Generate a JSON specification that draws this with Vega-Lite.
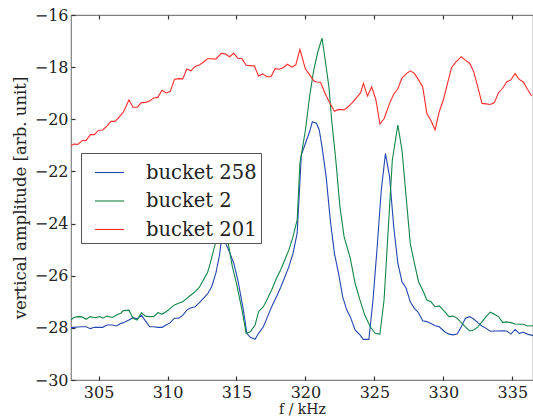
{
  "$schema": "https://vega.github.io/schema/vega-lite/v6.json",
  "width": 462,
  "height": 365,
  "autosize": {"type": "none"},
  "padding": {"left": 71, "top": 15, "right": 0, "bottom": 38},
  "background": "white",
  "config": {
    "view": {"stroke": "#808080", "strokeWidth": 1.2},
    "font": "DejaVu Serif",
    "axis": {
      "domain": false,
      "grid": false,
      "tickColor": "#333333",
      "tickWidth": 1.2,
      "labelFont": "DejaVu Serif",
      "labelColor": "#222222",
      "titleFont": "DejaVu Serif",
      "titleColor": "#222222",
      "titleFontWeight": "normal"
    },
    "legend": {
      "labelFont": "DejaVu Serif"
    }
  },
  "datasets": {
    "amp": [
      {"s": "bucket 258", "f": 303.0, "a": -27.99},
      {"s": "bucket 258", "f": 303.2, "a": -27.98},
      {"s": "bucket 258", "f": 303.5, "a": -27.97},
      {"s": "bucket 258", "f": 303.8, "a": -27.96},
      {"s": "bucket 258", "f": 304.1, "a": -27.96},
      {"s": "bucket 258", "f": 304.4, "a": -28.03},
      {"s": "bucket 258", "f": 304.7, "a": -27.98},
      {"s": "bucket 258", "f": 305.1, "a": -27.98},
      {"s": "bucket 258", "f": 305.3, "a": -27.98},
      {"s": "bucket 258", "f": 305.6, "a": -27.89},
      {"s": "bucket 258", "f": 306.0, "a": -27.89},
      {"s": "bucket 258", "f": 306.3, "a": -27.93},
      {"s": "bucket 258", "f": 306.6, "a": -27.83},
      {"s": "bucket 258", "f": 306.8, "a": -27.80},
      {"s": "bucket 258", "f": 307.2, "a": -27.70},
      {"s": "bucket 258", "f": 307.5, "a": -27.61},
      {"s": "bucket 258", "f": 307.8, "a": -27.65},
      {"s": "bucket 258", "f": 308.1, "a": -27.52},
      {"s": "bucket 258", "f": 308.4, "a": -27.73},
      {"s": "bucket 258", "f": 308.7, "a": -27.96},
      {"s": "bucket 258", "f": 309.0, "a": -27.96},
      {"s": "bucket 258", "f": 309.3, "a": -27.98},
      {"s": "bucket 258", "f": 309.6, "a": -27.98},
      {"s": "bucket 258", "f": 309.9, "a": -27.89},
      {"s": "bucket 258", "f": 310.2, "a": -27.80},
      {"s": "bucket 258", "f": 310.5, "a": -27.63},
      {"s": "bucket 258", "f": 310.8, "a": -27.63},
      {"s": "bucket 258", "f": 311.1, "a": -27.52},
      {"s": "bucket 258", "f": 311.4, "a": -27.32},
      {"s": "bucket 258", "f": 311.7, "a": -27.23},
      {"s": "bucket 258", "f": 312.0, "a": -27.19},
      {"s": "bucket 258", "f": 312.3, "a": -27.04},
      {"s": "bucket 258", "f": 312.6, "a": -26.87},
      {"s": "bucket 258", "f": 312.9, "a": -26.70},
      {"s": "bucket 258", "f": 313.2, "a": -26.42},
      {"s": "bucket 258", "f": 313.5, "a": -25.91},
      {"s": "bucket 258", "f": 313.75, "a": -25.27},
      {"s": "bucket 258", "f": 314.0, "a": -24.30},
      {"s": "bucket 258", "f": 314.25, "a": -24.80},
      {"s": "bucket 258", "f": 314.5, "a": -25.10},
      {"s": "bucket 258", "f": 314.8, "a": -25.52},
      {"s": "bucket 258", "f": 315.1, "a": -26.17},
      {"s": "bucket 258", "f": 315.5, "a": -27.32},
      {"s": "bucket 258", "f": 315.75, "a": -28.21},
      {"s": "bucket 258", "f": 316.0, "a": -28.36},
      {"s": "bucket 258", "f": 316.35, "a": -28.44},
      {"s": "bucket 258", "f": 316.6, "a": -28.21},
      {"s": "bucket 258", "f": 316.95, "a": -27.96},
      {"s": "bucket 258", "f": 317.25, "a": -27.57},
      {"s": "bucket 258", "f": 317.55, "a": -27.19},
      {"s": "bucket 258", "f": 317.9, "a": -26.81},
      {"s": "bucket 258", "f": 318.2, "a": -26.45},
      {"s": "bucket 258", "f": 318.5, "a": -26.06},
      {"s": "bucket 258", "f": 318.8, "a": -25.65},
      {"s": "bucket 258", "f": 319.1, "a": -25.14},
      {"s": "bucket 258", "f": 319.4, "a": -24.37},
      {"s": "bucket 258", "f": 319.7, "a": -21.37},
      {"s": "bucket 258", "f": 320.0, "a": -20.92},
      {"s": "bucket 258", "f": 320.3, "a": -20.48},
      {"s": "bucket 258", "f": 320.5, "a": -20.09},
      {"s": "bucket 258", "f": 320.8, "a": -20.15},
      {"s": "bucket 258", "f": 321.0, "a": -20.41},
      {"s": "bucket 258", "f": 321.2, "a": -21.05},
      {"s": "bucket 258", "f": 321.5, "a": -22.20},
      {"s": "bucket 258", "f": 321.8, "a": -23.86},
      {"s": "bucket 258", "f": 322.1, "a": -25.14},
      {"s": "bucket 258", "f": 322.4, "a": -25.91},
      {"s": "bucket 258", "f": 322.7, "a": -26.81},
      {"s": "bucket 258", "f": 323.0, "a": -27.32},
      {"s": "bucket 258", "f": 323.25, "a": -27.57},
      {"s": "bucket 258", "f": 323.6, "a": -28.08},
      {"s": "bucket 258", "f": 323.95, "a": -28.27},
      {"s": "bucket 258", "f": 324.2, "a": -28.44},
      {"s": "bucket 258", "f": 324.6, "a": -28.44},
      {"s": "bucket 258", "f": 324.9, "a": -26.93},
      {"s": "bucket 258", "f": 325.2, "a": -24.89},
      {"s": "bucket 258", "f": 325.5, "a": -22.71},
      {"s": "bucket 258", "f": 325.8, "a": -21.31},
      {"s": "bucket 258", "f": 326.1, "a": -22.20},
      {"s": "bucket 258", "f": 326.4, "a": -24.12},
      {"s": "bucket 258", "f": 326.7, "a": -25.52},
      {"s": "bucket 258", "f": 327.0, "a": -26.23},
      {"s": "bucket 258", "f": 327.3, "a": -26.48},
      {"s": "bucket 258", "f": 327.6, "a": -27.00},
      {"s": "bucket 258", "f": 327.9, "a": -27.25},
      {"s": "bucket 258", "f": 328.2, "a": -27.42},
      {"s": "bucket 258", "f": 328.5, "a": -27.73},
      {"s": "bucket 258", "f": 328.8, "a": -27.76},
      {"s": "bucket 258", "f": 329.1, "a": -27.83},
      {"s": "bucket 258", "f": 329.4, "a": -27.92},
      {"s": "bucket 258", "f": 329.7, "a": -27.96},
      {"s": "bucket 258", "f": 330.1, "a": -28.15},
      {"s": "bucket 258", "f": 330.4, "a": -28.24},
      {"s": "bucket 258", "f": 330.7, "a": -28.27},
      {"s": "bucket 258", "f": 331.0, "a": -28.24},
      {"s": "bucket 258", "f": 331.3, "a": -27.96},
      {"s": "bucket 258", "f": 331.6, "a": -27.63},
      {"s": "bucket 258", "f": 331.9, "a": -27.57},
      {"s": "bucket 258", "f": 332.2, "a": -27.66},
      {"s": "bucket 258", "f": 332.5, "a": -27.80},
      {"s": "bucket 258", "f": 332.8, "a": -27.93},
      {"s": "bucket 258", "f": 333.1, "a": -28.02},
      {"s": "bucket 258", "f": 333.4, "a": -28.13},
      {"s": "bucket 258", "f": 333.7, "a": -28.12},
      {"s": "bucket 258", "f": 334.0, "a": -28.12},
      {"s": "bucket 258", "f": 334.3, "a": -28.11},
      {"s": "bucket 258", "f": 334.6, "a": -28.12},
      {"s": "bucket 258", "f": 334.9, "a": -28.24},
      {"s": "bucket 258", "f": 335.2, "a": -28.06},
      {"s": "bucket 258", "f": 335.5, "a": -28.21},
      {"s": "bucket 258", "f": 335.8, "a": -28.17},
      {"s": "bucket 258", "f": 336.1, "a": -28.24},
      {"s": "bucket 258", "f": 336.5, "a": -28.30},

      {"s": "bucket 2", "f": 303.0, "a": -27.70},
      {"s": "bucket 2", "f": 303.2, "a": -27.60},
      {"s": "bucket 2", "f": 303.5, "a": -27.57},
      {"s": "bucket 2", "f": 303.8, "a": -27.58},
      {"s": "bucket 2", "f": 304.1, "a": -27.67},
      {"s": "bucket 2", "f": 304.4, "a": -27.57},
      {"s": "bucket 2", "f": 304.7, "a": -27.61},
      {"s": "bucket 2", "f": 305.1, "a": -27.57},
      {"s": "bucket 2", "f": 305.3, "a": -27.63},
      {"s": "bucket 2", "f": 305.6, "a": -27.55},
      {"s": "bucket 2", "f": 306.0, "a": -27.60},
      {"s": "bucket 2", "f": 306.3, "a": -27.51},
      {"s": "bucket 2", "f": 306.6, "a": -27.44},
      {"s": "bucket 2", "f": 306.8, "a": -27.34},
      {"s": "bucket 2", "f": 307.2, "a": -27.32},
      {"s": "bucket 2", "f": 307.5, "a": -27.63},
      {"s": "bucket 2", "f": 307.8, "a": -27.70},
      {"s": "bucket 2", "f": 308.1, "a": -27.42},
      {"s": "bucket 2", "f": 308.4, "a": -27.55},
      {"s": "bucket 2", "f": 308.7, "a": -27.57},
      {"s": "bucket 2", "f": 309.0, "a": -27.57},
      {"s": "bucket 2", "f": 309.3, "a": -27.42},
      {"s": "bucket 2", "f": 309.6, "a": -27.47},
      {"s": "bucket 2", "f": 309.9, "a": -27.38},
      {"s": "bucket 2", "f": 310.2, "a": -27.25},
      {"s": "bucket 2", "f": 310.5, "a": -27.12},
      {"s": "bucket 2", "f": 310.8, "a": -27.06},
      {"s": "bucket 2", "f": 311.1, "a": -27.00},
      {"s": "bucket 2", "f": 311.4, "a": -26.87},
      {"s": "bucket 2", "f": 311.7, "a": -26.74},
      {"s": "bucket 2", "f": 312.0, "a": -26.61},
      {"s": "bucket 2", "f": 312.3, "a": -26.45},
      {"s": "bucket 2", "f": 312.6, "a": -26.16},
      {"s": "bucket 2", "f": 312.9, "a": -25.88},
      {"s": "bucket 2", "f": 313.1, "a": -25.52},
      {"s": "bucket 2", "f": 313.4, "a": -24.89},
      {"s": "bucket 2", "f": 313.9, "a": -24.00},
      {"s": "bucket 2", "f": 314.4, "a": -24.76},
      {"s": "bucket 2", "f": 314.7, "a": -25.65},
      {"s": "bucket 2", "f": 315.0, "a": -26.29},
      {"s": "bucket 2", "f": 315.4, "a": -27.32},
      {"s": "bucket 2", "f": 315.7, "a": -28.21},
      {"s": "bucket 2", "f": 316.0, "a": -28.15},
      {"s": "bucket 2", "f": 316.35, "a": -27.89},
      {"s": "bucket 2", "f": 316.6, "a": -27.38},
      {"s": "bucket 2", "f": 316.95, "a": -27.19},
      {"s": "bucket 2", "f": 317.25, "a": -26.87},
      {"s": "bucket 2", "f": 317.55, "a": -26.55},
      {"s": "bucket 2", "f": 317.9, "a": -26.10},
      {"s": "bucket 2", "f": 318.2, "a": -25.78},
      {"s": "bucket 2", "f": 318.5, "a": -25.40},
      {"s": "bucket 2", "f": 318.8, "a": -25.01},
      {"s": "bucket 2", "f": 319.1, "a": -24.50},
      {"s": "bucket 2", "f": 319.4, "a": -23.86},
      {"s": "bucket 2", "f": 319.6, "a": -21.69},
      {"s": "bucket 2", "f": 320.0, "a": -20.41},
      {"s": "bucket 2", "f": 320.3, "a": -19.13},
      {"s": "bucket 2", "f": 320.6, "a": -18.11},
      {"s": "bucket 2", "f": 320.9, "a": -17.41},
      {"s": "bucket 2", "f": 321.2, "a": -16.89},
      {"s": "bucket 2", "f": 321.4, "a": -17.60},
      {"s": "bucket 2", "f": 321.7, "a": -18.75},
      {"s": "bucket 2", "f": 321.9, "a": -20.03},
      {"s": "bucket 2", "f": 322.2, "a": -21.56},
      {"s": "bucket 2", "f": 322.5, "a": -23.35},
      {"s": "bucket 2", "f": 322.8, "a": -24.50},
      {"s": "bucket 2", "f": 323.25, "a": -25.33},
      {"s": "bucket 2", "f": 323.6, "a": -26.29},
      {"s": "bucket 2", "f": 323.95, "a": -26.93},
      {"s": "bucket 2", "f": 324.3, "a": -27.51},
      {"s": "bucket 2", "f": 324.7, "a": -27.96},
      {"s": "bucket 2", "f": 325.05, "a": -28.21},
      {"s": "bucket 2", "f": 325.4, "a": -28.24},
      {"s": "bucket 2", "f": 325.7, "a": -26.93},
      {"s": "bucket 2", "f": 326.0, "a": -24.25},
      {"s": "bucket 2", "f": 326.3, "a": -21.56},
      {"s": "bucket 2", "f": 326.7, "a": -20.22},
      {"s": "bucket 2", "f": 327.0, "a": -21.18},
      {"s": "bucket 2", "f": 327.3, "a": -22.97},
      {"s": "bucket 2", "f": 327.6, "a": -24.76},
      {"s": "bucket 2", "f": 327.9, "a": -25.52},
      {"s": "bucket 2", "f": 328.2, "a": -26.23},
      {"s": "bucket 2", "f": 328.5, "a": -26.55},
      {"s": "bucket 2", "f": 328.8, "a": -26.93},
      {"s": "bucket 2", "f": 329.1, "a": -27.00},
      {"s": "bucket 2", "f": 329.4, "a": -27.19},
      {"s": "bucket 2", "f": 329.7, "a": -27.16},
      {"s": "bucket 2", "f": 330.1, "a": -27.38},
      {"s": "bucket 2", "f": 330.4, "a": -27.57},
      {"s": "bucket 2", "f": 330.7, "a": -27.55},
      {"s": "bucket 2", "f": 331.0, "a": -27.63},
      {"s": "bucket 2", "f": 331.3, "a": -27.80},
      {"s": "bucket 2", "f": 331.6, "a": -27.96},
      {"s": "bucket 2", "f": 331.9, "a": -28.12},
      {"s": "bucket 2", "f": 332.2, "a": -28.08},
      {"s": "bucket 2", "f": 332.5, "a": -27.96},
      {"s": "bucket 2", "f": 332.8, "a": -27.77},
      {"s": "bucket 2", "f": 333.1, "a": -27.57},
      {"s": "bucket 2", "f": 333.4, "a": -27.40},
      {"s": "bucket 2", "f": 333.7, "a": -27.48},
      {"s": "bucket 2", "f": 334.0, "a": -27.57},
      {"s": "bucket 2", "f": 334.3, "a": -27.79},
      {"s": "bucket 2", "f": 334.6, "a": -27.77},
      {"s": "bucket 2", "f": 334.9, "a": -27.80},
      {"s": "bucket 2", "f": 335.2, "a": -27.85},
      {"s": "bucket 2", "f": 335.5, "a": -27.86},
      {"s": "bucket 2", "f": 335.8, "a": -27.86},
      {"s": "bucket 2", "f": 336.1, "a": -27.93},
      {"s": "bucket 2", "f": 336.5, "a": -27.92},

      {"s": "bucket 201", "f": 303.0, "a": -21.02},
      {"s": "bucket 201", "f": 303.2, "a": -20.95},
      {"s": "bucket 201", "f": 303.5, "a": -20.96},
      {"s": "bucket 201", "f": 303.8, "a": -20.82},
      {"s": "bucket 201", "f": 304.1, "a": -20.81},
      {"s": "bucket 201", "f": 304.4, "a": -20.59},
      {"s": "bucket 201", "f": 304.7, "a": -20.59},
      {"s": "bucket 201", "f": 305.0, "a": -20.42},
      {"s": "bucket 201", "f": 305.3, "a": -20.41},
      {"s": "bucket 201", "f": 305.6, "a": -20.26},
      {"s": "bucket 201", "f": 305.9, "a": -20.08},
      {"s": "bucket 201", "f": 306.2, "a": -20.08},
      {"s": "bucket 201", "f": 306.6, "a": -19.85},
      {"s": "bucket 201", "f": 306.8, "a": -19.72},
      {"s": "bucket 201", "f": 307.2, "a": -19.26},
      {"s": "bucket 201", "f": 307.5, "a": -19.54},
      {"s": "bucket 201", "f": 307.8, "a": -19.54},
      {"s": "bucket 201", "f": 308.1, "a": -19.36},
      {"s": "bucket 201", "f": 308.4, "a": -19.35},
      {"s": "bucket 201", "f": 308.7, "a": -19.30},
      {"s": "bucket 201", "f": 309.0, "a": -19.18},
      {"s": "bucket 201", "f": 309.3, "a": -19.16},
      {"s": "bucket 201", "f": 309.6, "a": -18.89},
      {"s": "bucket 201", "f": 309.9, "a": -18.99},
      {"s": "bucket 201", "f": 310.2, "a": -18.93},
      {"s": "bucket 201", "f": 310.5, "a": -18.47},
      {"s": "bucket 201", "f": 310.8, "a": -18.44},
      {"s": "bucket 201", "f": 311.1, "a": -18.45},
      {"s": "bucket 201", "f": 311.4, "a": -18.07},
      {"s": "bucket 201", "f": 311.7, "a": -18.14},
      {"s": "bucket 201", "f": 312.0, "a": -17.97},
      {"s": "bucket 201", "f": 312.3, "a": -17.92},
      {"s": "bucket 201", "f": 312.6, "a": -17.81},
      {"s": "bucket 201", "f": 312.9, "a": -17.68},
      {"s": "bucket 201", "f": 313.2, "a": -17.68},
      {"s": "bucket 201", "f": 313.5, "a": -17.69},
      {"s": "bucket 201", "f": 313.9, "a": -17.47},
      {"s": "bucket 201", "f": 314.2, "a": -17.50},
      {"s": "bucket 201", "f": 314.5, "a": -17.60},
      {"s": "bucket 201", "f": 314.8, "a": -17.47},
      {"s": "bucket 201", "f": 315.1, "a": -17.66},
      {"s": "bucket 201", "f": 315.4, "a": -17.68},
      {"s": "bucket 201", "f": 315.7, "a": -17.93},
      {"s": "bucket 201", "f": 316.0, "a": -17.94},
      {"s": "bucket 201", "f": 316.3, "a": -17.96},
      {"s": "bucket 201", "f": 316.6, "a": -18.34},
      {"s": "bucket 201", "f": 316.9, "a": -18.26},
      {"s": "bucket 201", "f": 317.2, "a": -18.37},
      {"s": "bucket 201", "f": 317.5, "a": -18.37},
      {"s": "bucket 201", "f": 317.8, "a": -18.06},
      {"s": "bucket 201", "f": 318.1, "a": -18.08},
      {"s": "bucket 201", "f": 318.4, "a": -18.01},
      {"s": "bucket 201", "f": 318.7, "a": -17.89},
      {"s": "bucket 201", "f": 319.0, "a": -18.00},
      {"s": "bucket 201", "f": 319.3, "a": -17.91},
      {"s": "bucket 201", "f": 319.6, "a": -17.32},
      {"s": "bucket 201", "f": 320.0, "a": -18.08},
      {"s": "bucket 201", "f": 320.2, "a": -18.21},
      {"s": "bucket 201", "f": 320.6, "a": -18.52},
      {"s": "bucket 201", "f": 320.8, "a": -18.57},
      {"s": "bucket 201", "f": 321.1, "a": -18.58},
      {"s": "bucket 201", "f": 321.4, "a": -18.98},
      {"s": "bucket 201", "f": 321.7, "a": -19.31},
      {"s": "bucket 201", "f": 322.1, "a": -19.69},
      {"s": "bucket 201", "f": 322.4, "a": -19.62},
      {"s": "bucket 201", "f": 322.8, "a": -19.64},
      {"s": "bucket 201", "f": 323.1, "a": -19.52},
      {"s": "bucket 201", "f": 323.4, "a": -19.36},
      {"s": "bucket 201", "f": 323.7, "a": -19.18},
      {"s": "bucket 201", "f": 324.0, "a": -18.98},
      {"s": "bucket 201", "f": 324.2, "a": -18.62},
      {"s": "bucket 201", "f": 324.5, "a": -19.11},
      {"s": "bucket 201", "f": 324.8, "a": -18.75},
      {"s": "bucket 201", "f": 325.1, "a": -19.23},
      {"s": "bucket 201", "f": 325.4, "a": -20.18},
      {"s": "bucket 201", "f": 325.7, "a": -19.98},
      {"s": "bucket 201", "f": 326.1, "a": -19.39},
      {"s": "bucket 201", "f": 326.4, "a": -19.04},
      {"s": "bucket 201", "f": 326.7, "a": -18.83},
      {"s": "bucket 201", "f": 327.0, "a": -18.42},
      {"s": "bucket 201", "f": 327.3, "a": -18.26},
      {"s": "bucket 201", "f": 327.6, "a": -18.14},
      {"s": "bucket 201", "f": 327.9, "a": -18.24},
      {"s": "bucket 201", "f": 328.2, "a": -18.49},
      {"s": "bucket 201", "f": 328.5, "a": -18.75},
      {"s": "bucket 201", "f": 328.8, "a": -19.77},
      {"s": "bucket 201", "f": 329.1, "a": -20.05},
      {"s": "bucket 201", "f": 329.4, "a": -20.41},
      {"s": "bucket 201", "f": 329.7, "a": -19.71},
      {"s": "bucket 201", "f": 330.0, "a": -19.26},
      {"s": "bucket 201", "f": 330.3, "a": -18.62},
      {"s": "bucket 201", "f": 330.6, "a": -18.01},
      {"s": "bucket 201", "f": 330.9, "a": -17.81},
      {"s": "bucket 201", "f": 331.3, "a": -17.60},
      {"s": "bucket 201", "f": 331.6, "a": -17.73},
      {"s": "bucket 201", "f": 331.9, "a": -17.85},
      {"s": "bucket 201", "f": 332.2, "a": -18.17},
      {"s": "bucket 201", "f": 332.5, "a": -18.77},
      {"s": "bucket 201", "f": 332.8, "a": -19.39},
      {"s": "bucket 201", "f": 333.1, "a": -19.41},
      {"s": "bucket 201", "f": 333.4, "a": -19.43},
      {"s": "bucket 201", "f": 333.7, "a": -19.36},
      {"s": "bucket 201", "f": 334.0, "a": -18.98},
      {"s": "bucket 201", "f": 334.3, "a": -18.81},
      {"s": "bucket 201", "f": 334.6, "a": -18.56},
      {"s": "bucket 201", "f": 334.9, "a": -18.49},
      {"s": "bucket 201", "f": 335.2, "a": -18.24},
      {"s": "bucket 201", "f": 335.5, "a": -18.47},
      {"s": "bucket 201", "f": 335.8, "a": -18.57},
      {"s": "bucket 201", "f": 336.1, "a": -18.85},
      {"s": "bucket 201", "f": 336.4, "a": -19.11}
    ]
  },
  "data": {"name": "amp"},
  "resolve": {"axis": {"x": "independent"}},
  "layer": [
    {
      "mark": {"type": "line", "strokeWidth": 1.1, "clip": true},
      "encoding": {
        "x": {
          "field": "f",
          "type": "quantitative",
          "scale": {"domain": [303, 336.5], "nice": false, "zero": false},
          "axis": {
            "orient": "bottom",
            "title": "f / kHz",
            "values": [305, 310, 315, 320, 325, 330, 335],
            "tickSize": -4,
            "labelPadding": 8,
            "labelFontSize": 16,
            "titleFontSize": 14,
            "titlePadding": 2
          }
        },
        "y": {
          "field": "a",
          "type": "quantitative",
          "scale": {"domain": [-30, -16], "nice": false, "zero": false},
          "axis": {
            "title": "vertical amplitude [arb. unit]",
            "values": [-30, -28, -26, -24, -22, -20, -18, -16],
            "tickSize": -4,
            "labelPadding": 7,
            "labelFontSize": 16,
            "titleFontSize": 16.5,
            "titlePadding": 6
          }
        },
        "color": {
          "field": "s",
          "type": "nominal",
          "sort": ["bucket 258", "bucket 2", "bucket 201"],
          "scale": {
            "domain": ["bucket 258", "bucket 2", "bucket 201"],
            "range": ["#2347b0", "#12864a", "#ff2a2a"]
          },
          "legend": {
            "title": null,
            "orient": "none",
            "legendX": 10,
            "legendY": 138,
            "symbolType": "stroke",
            "symbolSize": 841,
            "symbolStrokeWidth": 1.1,
            "symbolOffset": 9,
            "labelFontSize": 19.5,
            "labelColor": "#222222",
            "labelOffset": 21,
            "rowPadding": 3.5,
            "padding": 4,
            "fillColor": "white",
            "strokeColor": "#555555"
          }
        }
      }
    },
    {
      "mark": {"type": "rule", "opacity": 0},
      "encoding": {
        "x": {
          "datum": 320,
          "type": "quantitative",
          "axis": {
            "orient": "top",
            "title": null,
            "labels": false,
            "values": [305, 310, 315, 320, 325, 330, 335],
            "tickSize": -4
          }
        }
      }
    }
  ]
}
